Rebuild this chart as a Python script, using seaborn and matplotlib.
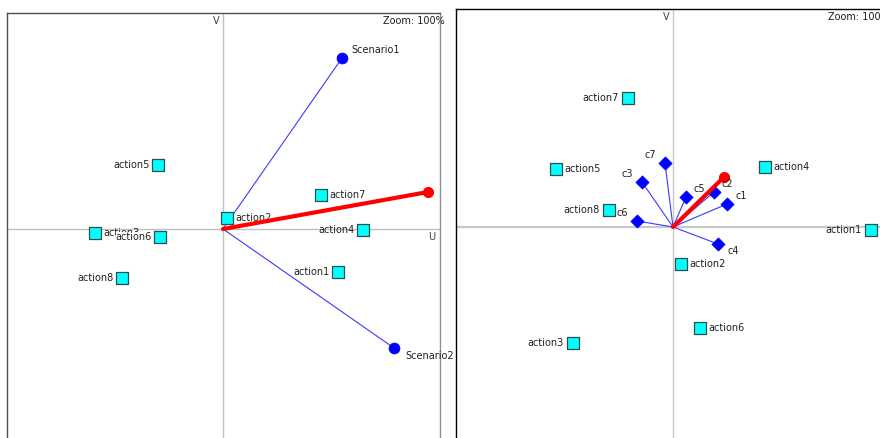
import pandas as pd
import seaborn as sns
import matplotlib.pyplot as plt

# Left plane: actions + scenarios, decision axis in red
left_actions = ['action1', 'action2', 'action3', 'action4', 'action5', 'action6', 'action7', 'action8']
left_u = [1.15, 0.04, -1.28, 1.40, -0.65, -0.63, 0.98, -1.01]
left_v = [-0.43, 0.11, -0.04, -0.01, 0.64, -0.08, 0.34, -0.49]
scenarios = ['Scenario1', 'Scenario2']
scen_u = [1.19, 1.71]
scen_v = [1.71, -1.19]
left_pi = (2.05, 0.37)

# Right plane: actions + criteria
right_actions = ['action1', 'action2', 'action3', 'action4', 'action5', 'action6', 'action7', 'action8']
right_u = [1.98, 0.08, -1.00, 0.92, -1.17, 0.27, -0.45, -0.64]
right_v = [-0.03, -0.37, -1.16, 0.60, 0.58, -1.01, 1.29, 0.17]
criteria = ['c1', 'c2', 'c3', 'c4', 'c5', 'c6', 'c7']
crit_u = [0.54, 0.41, -0.31, 0.45, 0.13, -0.36, -0.08]
crit_v = [0.23, 0.35, 0.45, -0.17, 0.30, 0.06, 0.64]
right_pi = (0.51, 0.50)

left_df = pd.DataFrame({'name': left_actions, 'U': left_u, 'V': left_v})
scen_df = pd.DataFrame({'name': scenarios, 'U': scen_u, 'V': scen_v})
right_df = pd.DataFrame({'name': right_actions, 'U': right_u, 'V': right_v})
crit_df = pd.DataFrame({'name': criteria, 'U': crit_u, 'V': crit_v})

# which side the action label sits on
left_side = {'action1': 'L', 'action2': 'R', 'action3': 'R', 'action4': 'L',
             'action5': 'L', 'action6': 'L', 'action7': 'R', 'action8': 'L'}
right_side = {'action1': 'L', 'action2': 'R', 'action3': 'L', 'action4': 'R',
              'action5': 'R', 'action6': 'R', 'action7': 'L', 'action8': 'L'}

sns.set_style('white')
plt.rcParams['font.family'] = ['DejaVu Sans']
FS = 7

fig = plt.figure(figsize=(8.8, 4.38), dpi=100)
ax1 = fig.add_axes([7 / 880, 0, 433 / 880, 425 / 438])
ax2 = fig.add_axes([456 / 880, 0, 424 / 880, 429 / 438])

ax1.set_xlim(-2.16, 2.17)
ax1.set_ylim(-2.09, 2.16)
ax2.set_xlim(-2.17, 2.07)
ax2.set_ylim(-2.11, 2.18)


def setup(ax, spine_col, axis_col, axis_lw):
    ax.set_xticks([])
    ax.set_yticks([])
    ax.set_xlabel('')
    ax.set_ylabel('')
    for s in ax.spines.values():
        s.set_color(spine_col)
        s.set_linewidth(1)
    ax.spines['bottom'].set_visible(False)
    ax.axhline(0, color=axis_col, lw=axis_lw, zorder=0)
    ax.axvline(0, color=axis_col, lw=1, zorder=0)


def label(ax, x, y, txt, dx, dy, ha, bg=False):
    t = ax.annotate(txt, (x, y), xytext=(dx, dy), textcoords='offset pixels',
                    ha=ha, va='center', fontsize=FS, color='#202020',
                    annotation_clip=False, zorder=6)
    if bg:
        t.set_bbox(dict(facecolor='white', edgecolor='none', pad=0))
    return t


# ---- left plane ----
setup(ax1, '#505050', '#c0c0c0', 1)
ax1.spines['right'].set_color('#909090')
for u, v in zip(scen_u, scen_v):
    ax1.plot([0, u], [0, v], color='#3a3aff', lw=0.8, zorder=2)
sns.scatterplot(data=scen_df, x='U', y='V', ax=ax1, marker='o', s=60,
                color='#0000ff', edgecolor='#0000ff', zorder=4, legend=False)
sns.scatterplot(data=left_df, x='U', y='V', ax=ax1, marker='s', s=70,
                color='#00ffff', edgecolor='#2a5050', linewidth=0.9, zorder=3, legend=False)
for _, r in left_df.iterrows():
    if left_side[r['name']] == 'R':
        label(ax1, r.U, r.V, r['name'], 8, 0, 'left')
    else:
        label(ax1, r.U, r.V, r['name'], -8, 0, 'right', bg=(r['name'] == 'action6'))
ax1.plot([0, left_pi[0]], [0, left_pi[1]], color='#ff0000', lw=3, zorder=7,
         solid_capstyle='round')
ax1.plot([left_pi[0]], [left_pi[1]], 'o', color='#ff0000', ms=7, zorder=7)
label(ax1, scen_u[0], scen_v[0], scenarios[0], 9, 8, 'left')
label(ax1, scen_u[1], scen_v[1], scenarios[1], 11, -8, 'left')
ax1.text(-0.03, 2.08, 'V', fontsize=FS, color='#404040', ha='right', va='center')
ax1.text(2.12, -0.08, 'U', fontsize=FS, color='#404040', ha='right', va='center')
ax1.text(1.60, 2.08, 'Zoom: 100%', fontsize=FS, color='#202020', ha='left', va='center')

# ---- right plane ----
setup(ax2, '#000000', '#c8c8c8', 1.6)
ax2.spines['right'].set_visible(False)
for u, v in zip(crit_u, crit_v):
    ax2.plot([0, u], [0, v], color='#3a3aff', lw=0.8, zorder=2)
sns.scatterplot(data=crit_df, x='U', y='V', ax=ax2, marker='D', s=45,
                color='#0000ff', edgecolor='#0000ff', zorder=4, legend=False)
sns.scatterplot(data=right_df, x='U', y='V', ax=ax2, marker='s', s=70,
                color='#00ffff', edgecolor='#2a5050', linewidth=0.9, zorder=3, legend=False)
for _, r in right_df.iterrows():
    if right_side[r['name']] == 'R':
        label(ax2, r.U, r.V, r['name'], 8, 0, 'left')
    else:
        label(ax2, r.U, r.V, r['name'], -9, 0, 'right')
for _, r in crit_df.iterrows():
    if r.U < 0:
        label(ax2, r.U, r.V, r['name'], -9, 8, 'right')
    elif r.V < 0:
        label(ax2, r.U, r.V, r['name'], 9, -7, 'left')
    else:
        label(ax2, r.U, r.V, r['name'], 8, 8, 'left')
ax2.plot([0, right_pi[0]], [0, right_pi[1]], color='#ff0000', lw=3, zorder=5,
         solid_capstyle='round')
ax2.plot([right_pi[0]], [right_pi[1]], 'o', color='#ff0000', ms=7, zorder=5)
ax2.text(-0.03, 2.10, 'V', fontsize=FS, color='#404040', ha='right', va='center')
ax2.text(1.55, 2.10, 'Zoom: 100%', fontsize=FS, color='#202020', ha='left', va='center')

fig.savefig('out.png', dpi=100)
